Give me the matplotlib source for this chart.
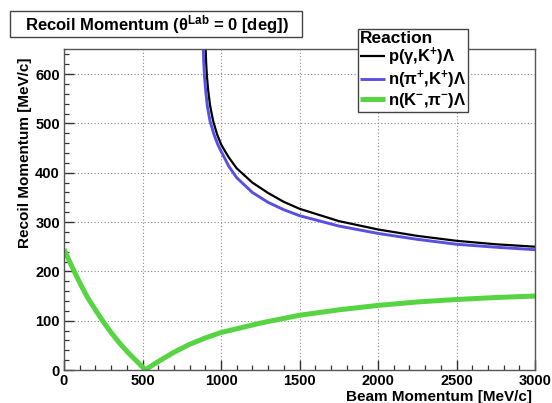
import matplotlib
matplotlib.use("Agg")
import matplotlib.pyplot as plt
from matplotlib.patches import Rectangle
from matplotlib.ticker import MultipleLocator

plt.rcParams['font.family'] = ['Liberation Sans', 'DejaVu Sans']
plt.rcParams['font.weight'] = 'bold'
plt.rcParams['mathtext.fontset'] = 'custom'
plt.rcParams['mathtext.rm'] = 'Liberation Sans:bold'
plt.rcParams['mathtext.it'] = 'Liberation Sans:bold'
plt.rcParams['mathtext.bf'] = 'Liberation Sans:bold'

# ---- data ----
gamma_x = [902, 905, 910, 918, 930, 950, 975, 1000, 1025, 1050, 1100, 1200, 1300, 1400,
           1500, 1750, 2000, 2250, 2500, 2750, 3000]
gamma_y = [655, 625, 597, 568, 537, 505, 478, 458, 444, 431, 409, 380, 359, 341,
           327, 302, 285, 272, 262, 255, 250]

pip_x = [887, 890, 895, 903, 913, 930, 955, 980, 1000, 1050, 1100, 1200, 1300, 1400,
         1500, 1750, 2000, 2250, 2500, 2750, 3000]
pip_y = [655, 625, 595, 565, 535, 505, 478, 457, 444, 413, 390, 360, 340, 325,
         313, 292, 277, 265, 255, 249, 244]

km_x = [0, 50, 100, 150, 200, 250, 300, 350, 400, 450, 500, 518,
        550, 600, 700, 800, 900, 1000, 1250, 1500, 1750, 2000, 2250, 2500, 2750, 3000]
km_y = [245, 210, 177, 147, 122, 98, 76, 56, 38, 22, 6, 0,
        7, 17, 36, 52, 65, 76, 95, 111, 122, 131, 138, 143, 147, 150]

labels = [r"p(γ,K$^{+}$)Λ", r"n(π$^{+}$,K$^{+}$)Λ", r"n(K$^{-}$,π$^{-}$)Λ"]
colors = ["black", "#5a50e0", "#56d442"]
widths = [1.6, 2.1, 3.6]

W, H = 552, 403
fig = plt.figure(figsize=(W / 100, H / 100), dpi=100)
fig.patch.set_facecolor("white")

x0, x1, y0, y1 = 64, 535, 370, 49
ax = fig.add_axes([x0 / W, 1 - y0 / H, (x1 - x0) / W, (y0 - y1) / H])

series = [(gamma_x, gamma_y), (pip_x, pip_y), (km_x, km_y)]
handles = []
for (xs, ys), lab, c, lw in zip(series, labels, colors, widths):
    h, = ax.plot(xs, ys, color=c, lw=lw, label=lab, solid_capstyle='butt',
                 solid_joinstyle='round')
    handles.append(h)

ax.set_xlim(0, 3000)
ax.set_ylim(0, 651)
ax.xaxis.set_major_locator(MultipleLocator(500))
ax.xaxis.set_minor_locator(MultipleLocator(100))
ax.yaxis.set_major_locator(MultipleLocator(100))
ax.yaxis.set_minor_locator(MultipleLocator(20))
ax.tick_params(which='both', direction='in', top=False, right=False,
               colors='#333333', labelcolor='black')
ax.tick_params(which='major', length=7, width=1, labelsize=10.5, pad=3)
ax.tick_params(which='minor', length=3.5, width=0.9)
for lab in ax.get_xticklabels() + ax.get_yticklabels():
    lab.set_fontweight('bold')
for s in ax.spines.values():
    s.set_color('#555555')
    s.set_linewidth(1.0)
ax.grid(True, which='major', color='#8a8a8a', linestyle=(0, (1, 2)), linewidth=0.8)
ax.set_axisbelow(True)

fig.text(532 / W, 1 - 397 / H, "Beam Momentum [MeV/c]", ha='right', va='center',
         fontsize=11, fontweight='bold')
fig.text(25 / W, 1 - 57 / H, "Recoil Momentum [MeV/c]", ha='center', va='top',
         rotation=90, fontsize=11, fontweight='bold')

# title box
fig.patches.append(Rectangle((10 / W, 1 - 37 / H), 292 / W, 26 / H,
                             transform=fig.transFigure, facecolor='white',
                             edgecolor='#444444', lw=1.0))
fig.text(25 / W, 1 - 24.5 / H, r"Recoil Momentum (θ$^{\rm Lab}$ = 0 [deg])",
         ha='left', va='center', fontsize=12, fontweight='bold')

leg = ax.legend(handles=handles, labels=labels, title="Reaction",
                loc='upper left', bbox_to_anchor=(358 / W, 1 - 29 / H),
                bbox_transform=fig.transFigure, frameon=True, fancybox=False,
                framealpha=1, edgecolor='#444444', borderaxespad=0,
                borderpad=0.12, handlelength=1.5, handletextpad=0.15,
                labelspacing=0.0, prop={'size': 12, 'weight': 'bold'},
                alignment='left')
leg.get_title().set_fontsize(12.5)
leg.get_title().set_fontweight('bold')
leg.get_frame().set_linewidth(1.0)
leg.set_zorder(10)

fig.savefig("out.png", dpi=100)
